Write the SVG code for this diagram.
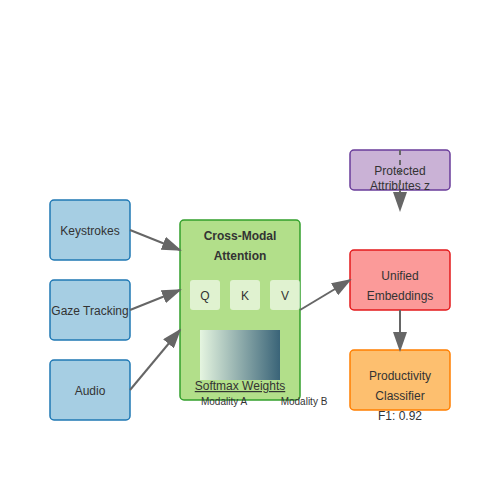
<svg xmlns="http://www.w3.org/2000/svg" width="500" height="500" viewBox="0 0 500 500">
<style>
text{font-family:"Liberation Sans",Arial,sans-serif;fill:#333;text-anchor:middle}
.lbl{font-size:12px}
.small{font-size:10px}
.bold{font-weight:bold}
.in{fill:#a6cee3;stroke:#1f78b4;stroke-width:1.5}
.conn{stroke:#666;stroke-width:2;fill:none}
</style>
<defs>
<marker id="arr" markerWidth="10" markerHeight="7" refX="9" refY="3.5" orient="auto">
<path d="M0,0 L10,3.5 L0,7 Z" fill="#666"/>
</marker>
<linearGradient id="grad" x1="0" y1="0" x2="1" y2="0">
<stop offset="0" stop-color="#e5f5e0"/>
<stop offset="1" stop-color="#3a6478"/>
</linearGradient>
</defs>
<rect width="500" height="500" fill="#fff"/>
<g id="keystrokes"><rect class="in" x="50" y="200" width="80" height="60" rx="4"/><text class="lbl" x="90" y="235">Keystrokes</text></g>
<g id="gaze"><rect class="in" x="50" y="280" width="80" height="60" rx="4"/><text class="lbl" x="90" y="315">Gaze Tracking</text></g>
<g id="audio"><rect class="in" x="50" y="360" width="80" height="60" rx="4"/><text class="lbl" x="90" y="395">Audio</text></g>
<g id="attention">
<rect x="180" y="220" width="120" height="180" rx="4" fill="#b2df8a" stroke="#33a02c" stroke-width="1.5"/>
<text class="lbl bold" x="240" y="240">Cross-Modal</text>
<text class="lbl bold" x="240" y="260">Attention</text>
<rect x="190" y="280" width="30" height="30" rx="3" fill="#fff" fill-opacity="0.6"/>
<rect x="230" y="280" width="30" height="30" rx="3" fill="#fff" fill-opacity="0.6"/>
<rect x="270" y="280" width="30" height="30" rx="3" fill="#fff" fill-opacity="0.6"/>
<text class="lbl" x="205" y="300">Q</text>
<text class="lbl" x="245" y="300">K</text>
<text class="lbl" x="285" y="300">V</text>
<rect x="200" y="330" width="80" height="50" fill="url(#grad)"/>
<text class="lbl" x="240" y="390" text-decoration="underline">Softmax Weights</text>
<text class="small" x="224" y="405">Modality A</text>
<text class="small" x="304" y="405">Modality B</text>
</g>
<g id="protected"><rect x="350" y="150" width="100" height="40" rx="4" fill="#cab2d6" stroke="#6a3d9a" stroke-width="1.5"/><text class="lbl" x="400" y="175">Protected</text><text class="lbl" x="400" y="190">Attributes z</text></g>
<g id="unified"><rect x="350" y="250" width="100" height="60" rx="4" fill="#fb9a99" stroke="#e31a1c" stroke-width="1.5"/><text class="lbl" x="400" y="280">Unified</text><text class="lbl" x="400" y="300">Embeddings</text></g>
<g id="classifier"><rect x="350" y="350" width="100" height="60" rx="4" fill="#fdbf6f" stroke="#ff7f00" stroke-width="1.5"/><text class="lbl" x="400" y="380">Productivity</text><text class="lbl" x="400" y="400">Classifier</text><text class="lbl" x="400" y="420">F1: 0.92</text></g>
<g id="connectors">
<line class="conn" x1="130" y1="230" x2="180" y2="250" marker-end="url(#arr)"/>
<line class="conn" x1="130" y1="310" x2="180" y2="290" marker-end="url(#arr)"/>
<line class="conn" x1="130" y1="390" x2="180" y2="330" marker-end="url(#arr)"/>
<line class="conn" x1="300" y1="310" x2="350" y2="280" marker-end="url(#arr)"/>
<line class="conn" x1="400" y1="310" x2="400" y2="350" marker-end="url(#arr)"/>
<line class="conn" x1="400" y1="150" x2="400" y2="210" stroke-dasharray="5,5" marker-end="url(#arr)"/>
</g>
</svg>
